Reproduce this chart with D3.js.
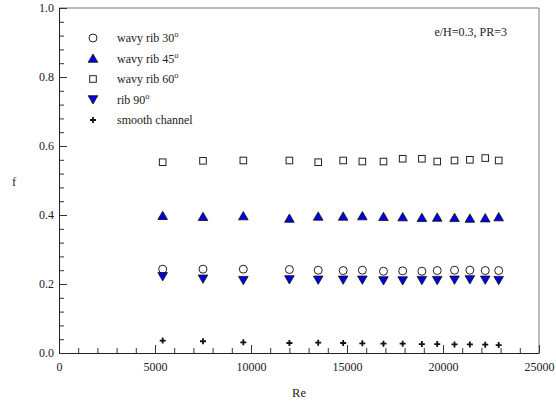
<!DOCTYPE html>
<html>
<head>
<meta charset="utf-8">
<script src="https://cdn.jsdelivr.net/npm/d3@7"></script>
<style>
  body { margin: 0; background: #fff; }
</style>
</head>
<body>
<svg width="556" height="405"></svg>
<script>
// Reynolds numbers shared by all series
const re = [5400, 7500, 9600, 12000, 13500, 14800, 15800, 16900, 17900, 18900, 19700, 20600, 21400, 22200, 22900];

const wavy30 = [0.243, 0.243, 0.243, 0.242, 0.240, 0.239, 0.240, 0.237, 0.238, 0.237, 0.239, 0.240, 0.240, 0.239, 0.239];
const wavy45 = [0.398, 0.395, 0.397, 0.390, 0.396, 0.396, 0.397, 0.395, 0.394, 0.392, 0.393, 0.392, 0.390, 0.391, 0.394];
const wavy60 = [0.553, 0.557, 0.558, 0.558, 0.553, 0.558, 0.555, 0.555, 0.563, 0.563, 0.555, 0.558, 0.560, 0.565, 0.558];
const rib90 = [0.222, 0.215, 0.211, 0.213, 0.212, 0.212, 0.212, 0.210, 0.210, 0.211, 0.211, 0.212, 0.213, 0.212, 0.211];
const smooth = [0.036, 0.034, 0.031, 0.029, 0.030, 0.029, 0.028, 0.027, 0.027, 0.026, 0.026, 0.025, 0.025, 0.024, 0.023];

const xTicks = [0, 5000, 10000, 15000, 20000, 25000];
const yTicks = [0.0, 0.2, 0.4, 0.6, 0.8, 1.0];

const series = [
  {name: "wavy rib 30", sup: "o", values: wavy30, shape: "circle"},
  {name: "wavy rib 45", sup: "o", values: wavy45, shape: "up"},
  {name: "wavy rib 60", sup: "o", values: wavy60, shape: "square"},
  {name: "rib 90", sup: "o", values: rib90, shape: "down"},
  {name: "smooth channel", sup: "", values: smooth, shape: "plus"}
];

const FONT = "Liberation Serif";

const margin = {top: 8, right: 17, bottom: 52, left: 59};
const width = 556 - margin.left - margin.right;
const height = 405 - margin.top - margin.bottom;

const svg = d3.select("svg");
const g = svg.append("g").attr("transform", `translate(${margin.left},${margin.top})`);

const x = d3.scaleLinear().domain([0, 25000]).range([0, width]);
const y = d3.scaleLinear().domain([0, 1]).range([height, 0]);

// frame (top/right lighter)
g.append("line").attr("x1", 0).attr("x2", width).attr("y1", 0).attr("y2", 0).attr("stroke", "#777");
g.append("line").attr("x1", width).attr("x2", width).attr("y1", 0).attr("y2", height).attr("stroke", "#777");

// axes with inward ticks
const xMinor = d3.range(0, 25001, 1000);
g.append("g").attr("transform", `translate(0,${height})`)
  .call(d3.axisTop(x).tickValues(xMinor).tickSize(5).tickFormat(""))
  .call(a => a.select(".domain").remove());
g.append("g").attr("transform", `translate(0,${height})`)
  .call(d3.axisTop(x).tickValues(xTicks).tickSize(8).tickFormat(""))
  .call(a => a.select(".domain").remove());
const xa = g.append("g").attr("transform", `translate(0,${height})`)
  .call(d3.axisBottom(x).tickValues(xTicks).tickSize(0).tickPadding(9).tickFormat(d3.format("d")));
xa.select(".domain").attr("stroke", "#222");

const yMinor = d3.range(0, 1.0001, 0.04);
g.append("g")
  .call(d3.axisRight(y).tickValues(yMinor).tickSize(5).tickFormat(""))
  .call(a => a.select(".domain").remove());
g.append("g")
  .call(d3.axisRight(y).tickValues(yTicks).tickSize(8).tickFormat(""))
  .call(a => a.select(".domain").remove());
const ya = g.append("g")
  .call(d3.axisLeft(y).tickValues(yTicks).tickSize(0).tickPadding(5).tickFormat(d3.format(".1f")));
ya.select(".domain").attr("stroke", "#222");
g.selectAll(".tick line").attr("stroke", "#333");
xa.attr("font-family", FONT).attr("font-size", 12);
ya.attr("font-family", FONT).attr("font-size", 12);
g.selectAll(".tick text").attr("fill", "#222");

// axis titles
svg.append("text").attr("x", 299).attr("y", 397).attr("text-anchor", "middle")
  .attr("font-family", FONT).attr("font-size", 12.5).attr("fill", "#222").text("Re");
svg.append("text").attr("x", 14).attr("y", 186).attr("text-anchor", "middle")
  .attr("font-family", FONT).attr("font-size", 12.5).attr("fill", "#222").text("f");

// markers
function drawMarker(sel, shape) {
  if (shape === "circle") {
    sel.append("circle").attr("r", 4).attr("fill", "#fff").attr("stroke", "#222").attr("stroke-width", 1);
  } else if (shape === "square") {
    sel.append("rect").attr("x", -3.3).attr("y", -3.3).attr("width", 6.6).attr("height", 6.6)
      .attr("fill", "#fff").attr("stroke", "#222").attr("stroke-width", 1);
  } else if (shape === "up") {
    sel.append("path").attr("d", "M0,-4.5L4.8,3.8L-4.8,3.8Z").attr("fill", "#0000e0").attr("stroke", "#111").attr("stroke-width", 0.8);
  } else if (shape === "down") {
    sel.append("path").attr("d", "M0,4.5L4.8,-3.8L-4.8,-3.8Z").attr("fill", "#0000e0").attr("stroke", "#111").attr("stroke-width", 0.8);
  } else {
    sel.append("path").attr("d", "M-3,0H3M0,-3V3").attr("stroke", "#111").attr("stroke-width", 1.8);
  }
}

series.forEach(s => {
  g.append("g").selectAll("g")
    .data(re.map((r, i) => [r, s.values[i]]))
    .join("g")
    .attr("transform", d => `translate(${x(d[0])},${y(d[1])})`)
    .each(function() { drawMarker(d3.select(this), s.shape); });
});

// legend
const legend = svg.append("g").attr("font-family", FONT);
const rowY = [38, 58.5, 79, 99.5, 120];
series.forEach((s, i) => {
  const m = legend.append("g").attr("transform", `translate(93,${rowY[i]})`);
  drawMarker(m, s.shape);
  const t = legend.append("text").attr("x", 117).attr("y", rowY[i] + 4)
    .attr("font-family", FONT).attr("font-size", 12).attr("fill", "#222");
  t.append("tspan").text(s.name);
  if (s.sup) t.append("tspan").attr("dy", -5).attr("font-size", 8.5).text(s.sup);
});

svg.append("text").attr("x", 507).attr("y", 36).attr("text-anchor", "end")
  .attr("font-family", FONT).attr("font-size", 12).attr("fill", "#222").text("e/H=0.3, PR=3");
</script>
</body>
</html>
